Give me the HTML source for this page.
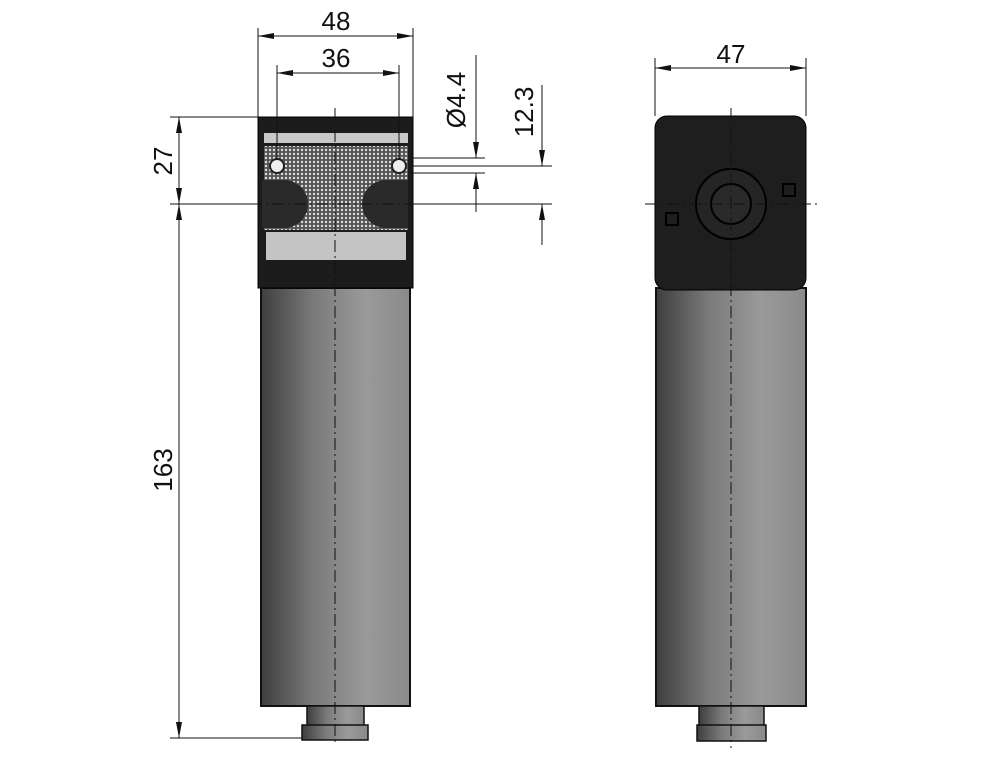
<!DOCTYPE html>
<html><head><meta charset="utf-8"><style>html,body{margin:0;padding:0;background:#fff}svg{display:block}</style></head>
<body>
<svg width="1000" height="764" viewBox="0 0 1000 764" xmlns="http://www.w3.org/2000/svg" font-family="Liberation Sans, DejaVu Sans, sans-serif">
<defs>
<linearGradient id="body" x1="0" x2="1" y1="0" y2="0">
<stop offset="0" stop-color="#3e3e3e"/><stop offset="0.35" stop-color="#7a7a7a"/><stop offset="0.7" stop-color="#9a9a9a"/><stop offset="1" stop-color="#8a8a8a"/>
</linearGradient>
<pattern id="mesh" width="4" height="4" patternUnits="userSpaceOnUse">
<rect width="4" height="4" fill="#555"/><circle cx="2" cy="2" r="1.2" fill="#ddd"/>
</pattern>
<marker id="a" viewBox="0 0 16 6" refX="16" refY="3" markerWidth="16" markerHeight="6" orient="auto-start-reverse" markerUnits="userSpaceOnUse"><path d="M0,0 L16,3 L0,6 z" fill="#111"/></marker>
</defs>

<!-- LEFT VIEW -->
<rect x="261" y="288" width="149" height="418" fill="url(#body)" stroke="#111" stroke-width="2"/>
<rect x="307" y="706" width="57" height="20" fill="url(#body)" stroke="#111" stroke-width="1.5"/>
<rect x="302" y="725" width="66" height="15" fill="url(#body)" stroke="#111" stroke-width="1.5"/>
<rect x="258" y="117" width="155" height="171" fill="#1c1c1c" stroke="#000"/>
<rect x="264" y="133" width="144" height="10" fill="#c8c8c8"/>
<rect x="264" y="146" width="144" height="84" fill="url(#mesh)"/>
<path d="M262,180 h22 a24,24 0 0 1 0,48 h-22 z" fill="#2a2a2a"/>
<path d="M408,180 h-22 a24,24 0 0 0 0,48 h22 z" fill="#2a2a2a"/>
<rect x="266" y="232" width="140" height="28" fill="#c4c4c4"/>
<circle cx="277" cy="166" r="7" fill="#eee" stroke="#222" stroke-width="2"/>
<circle cx="399" cy="166" r="7" fill="#eee" stroke="#222" stroke-width="2"/>
<line x1="335" y1="108" x2="335" y2="745" stroke="#111" stroke-dasharray="12,4,2,4"/>
<!-- dims left -->
<g stroke="#111" stroke-width="1" fill="none">
<line x1="258" y1="28" x2="258" y2="117"/><line x1="413" y1="28" x2="413" y2="117"/>
<line x1="258" y1="36" x2="413" y2="36" marker-start="url(#a)" marker-end="url(#a)"/>
<line x1="277" y1="65" x2="277" y2="160"/><line x1="399" y1="65" x2="399" y2="160"/>
<line x1="277" y1="73" x2="399" y2="73" marker-start="url(#a)" marker-end="url(#a)"/>
<line x1="170" y1="117" x2="258" y2="117"/><line x1="170" y1="204" x2="258" y2="204"/><line x1="170" y1="738" x2="302" y2="738"/>
<line x1="179" y1="117" x2="179" y2="204" marker-start="url(#a)" marker-end="url(#a)"/>
<line x1="179" y1="204" x2="179" y2="738" marker-start="url(#a)" marker-end="url(#a)"/>
<line x1="410" y1="158" x2="485" y2="158"/><line x1="410" y1="173" x2="485" y2="173"/>
<line x1="410" y1="166" x2="552" y2="166"/><line x1="415" y1="204" x2="552" y2="204"/>
<line x1="476" y1="55" x2="476" y2="158" marker-end="url(#a)"/><line x1="476" y1="173" x2="476" y2="212" marker-start="url(#a)"/>
<line x1="542" y1="85" x2="542" y2="166" marker-end="url(#a)"/><line x1="542" y1="204" x2="542" y2="245" marker-start="url(#a)"/>
</g>
<g font-size="26" fill="#111" text-anchor="middle">
<text x="336" y="30">48</text>
<text x="336" y="67">36</text>
<text transform="translate(172,161) rotate(-90)">27</text>
<text transform="translate(172,470) rotate(-90)">163</text>
<text transform="translate(465,100) rotate(-90)">Ø4.4</text>
<text transform="translate(533,112) rotate(-90)">12.3</text>
<text x="731" y="63">47</text>
</g>

<!-- RIGHT VIEW -->
<rect x="656" y="288" width="150" height="418" fill="url(#body)" stroke="#111" stroke-width="2"/>
<rect x="699" y="706" width="65" height="20" fill="url(#body)" stroke="#111" stroke-width="1.5"/>
<rect x="697" y="725" width="69" height="16" fill="url(#body)" stroke="#111" stroke-width="1.5"/>
<rect x="655" y="116" width="151" height="174" rx="12" fill="#1e1e1e" stroke="#000"/>
<circle cx="731" cy="204" r="35" fill="#252525" stroke="#000" stroke-width="2"/>
<circle cx="731" cy="204" r="20" fill="#2a2a2a" stroke="#000" stroke-width="2"/>
<rect x="666" y="213" width="12" height="12" fill="none" stroke="#000" stroke-width="2"/>
<rect x="783" y="184" width="12" height="12" fill="none" stroke="#000" stroke-width="2"/>
<line x1="731" y1="108" x2="731" y2="748" stroke="#111" stroke-dasharray="12,4,2,4"/>
<line x1="645" y1="204" x2="817" y2="204" stroke="#111" stroke-dasharray="12,4,2,4"/>
<line x1="250" y1="204" x2="420" y2="204" stroke="#111" stroke-dasharray="12,4,2,4"/>
<g stroke="#111" fill="none">
<line x1="655" y1="58" x2="655" y2="116"/><line x1="806" y1="58" x2="806" y2="116"/>
<line x1="655" y1="68" x2="806" y2="68" marker-start="url(#a)" marker-end="url(#a)"/>
</g>
</svg>
</body></html>
